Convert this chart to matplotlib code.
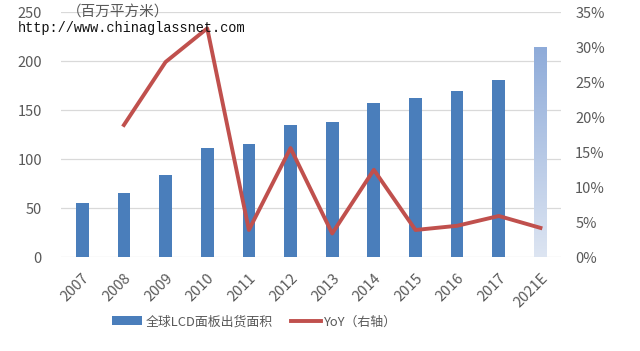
import matplotlib
matplotlib.use("Agg")
import matplotlib.pyplot as plt
import numpy as np
from matplotlib.ticker import FuncFormatter
from matplotlib.colors import LinearSegmentedColormap

plt.rcParams['font.family'] = ['Noto Sans CJK SC', 'DejaVu Sans']

years = ['2007', '2008', '2009', '2010', '2011', '2012', '2013', '2014', '2015', '2016', '2017', '2021E']
area = [55, 66, 84, 112, 116, 135, 138, 157, 163, 170, 181, 215]
yoy = [np.nan, 18.9, 27.9, 32.7, 3.9, 15.6, 3.4, 12.5, 3.9, 4.5, 5.9, 4.2]

bar_color = '#4a7ebb'
line_color = '#c0504d'
text_color = '#595959'

fig = plt.figure(figsize=(6.4, 3.51), dpi=100)
ax = fig.add_axes([0.096, 0.267, 0.781, 0.698])
x = np.arange(len(years))
bars = ax.bar(x, area, width=0.305, color=bar_color, zorder=2, label='全球LCD面板出货面积')

# gradient for forecast bar
last = bars[-1]
last.set_facecolor('none')
bx, bw, bh = last.get_x(), last.get_width(), last.get_height()
grad = np.linspace(0, 1, 256).reshape(-1, 1)
cmap = LinearSegmentedColormap.from_list('g', ['#dde5f2', '#8eabd9'])
im = ax.imshow(grad, extent=[bx, bx + bw, 0, bh], origin='lower', aspect='auto',
               cmap=cmap, zorder=2)
im.set_clip_path(last)

ax.set_xlim(-0.5, len(years) - 0.5)
ax.set_ylim(0, 250)
ax.set_yticks(np.arange(0, 251, 50))
ax.grid(axis='y', color='#d9d9d9', linewidth=0.9, zorder=0)
ax.set_axisbelow(True)
for s in ax.spines.values():
    s.set_visible(False)
ax.tick_params(length=0, colors=text_color, labelsize=10.5)
ax.tick_params(axis='y', pad=14)
ax.set_xticks(x)
ax.set_xticklabels(years, rotation=45, ha='right', va='top', rotation_mode='anchor', fontsize=10.5)
ax.tick_params(axis='x', pad=10)

ax2 = ax.twinx()
ax2.set_ylim(0, 35)
ax2.set_yticks(np.arange(0, 36, 5))
ax2.yaxis.set_major_formatter(FuncFormatter(lambda v, p: f'{int(v)}%'))
for s in ax2.spines.values():
    s.set_visible(False)
ax2.tick_params(length=0, colors=text_color, labelsize=10.5, pad=10)
line, = ax2.plot(x, yoy, color=line_color, linewidth=2.8, zorder=3, label='YoY（右轴）')

fig.text(0.104, 0.964, '（百万平方米）', color=text_color, fontsize=10.5, va='center', ha='left')
fig.text(0.027, 0.921, 'http://www.chinaglassnet.com', family='Liberation Mono',
         fontsize=9.8, color='#111111', va='center', ha='left')

fig.legend([bars, line], ['全球LCD面板出货面积', 'YoY（右轴）'], loc='center',
           bbox_to_anchor=(0.398, 0.083), ncol=2, frameon=False, fontsize=9.3,
           labelcolor=text_color, handlelength=2.3, columnspacing=1.4, handletextpad=0.3)

fig.savefig('out.png', dpi=100)
